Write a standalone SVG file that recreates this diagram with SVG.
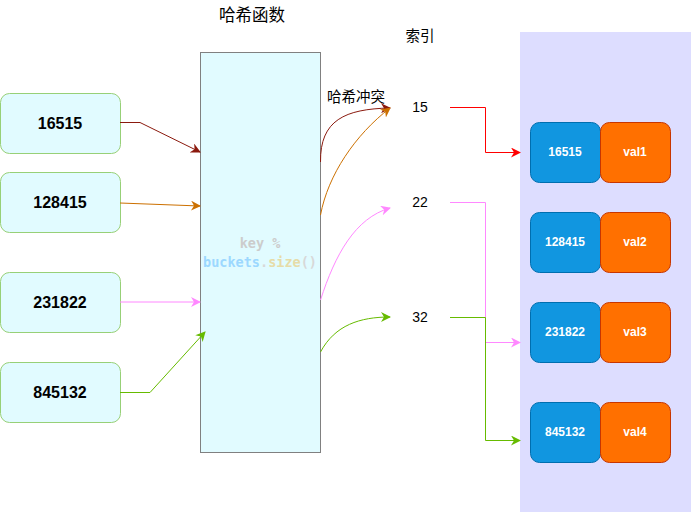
<svg xmlns="http://www.w3.org/2000/svg" width="691" height="512" viewBox="0 0 691 512">
<style>
.key{fill:#E1FBFF;stroke:#97D077;stroke-width:1}
.kt{font-family:"Liberation Sans",Arial,sans-serif;font-weight:bold;font-size:16px;fill:#000;text-anchor:middle}
.bk{fill:#1196E0;stroke:#006EAF;stroke-width:1}
.bv{fill:#FF7000;stroke:#C73500;stroke-width:1}
.bt{font-family:"Liberation Sans",Arial,sans-serif;font-weight:bold;font-size:12px;fill:#fff;text-anchor:middle}
.lbl{font-family:"Liberation Sans","Noto Sans CJK SC",sans-serif;font-size:14px;fill:#000;text-anchor:middle}
.cjk{font-family:"Noto Sans CJK SC",sans-serif;fill:#000;text-anchor:middle}
.code{font-family:"DejaVu Sans Mono","Liberation Mono",monospace;font-weight:bold;font-size:13.5px;text-anchor:middle}
.c{fill:none;stroke-width:1}
</style>
<defs>
<marker id="aDR" viewBox="0 0 10 10" refX="9" refY="5" markerWidth="10" markerHeight="10" markerUnits="userSpaceOnUse" orient="auto"><path d="M0,0 L10,5 L0,10 L3,5 Z" fill="#8B1A0E"/></marker>
<marker id="aOR" viewBox="0 0 10 10" refX="9" refY="5" markerWidth="10" markerHeight="10" markerUnits="userSpaceOnUse" orient="auto"><path d="M0,0 L10,5 L0,10 L3,5 Z" fill="#CC7000"/></marker>
<marker id="aPK" viewBox="0 0 10 10" refX="9" refY="5" markerWidth="10" markerHeight="10" markerUnits="userSpaceOnUse" orient="auto"><path d="M0,0 L10,5 L0,10 L3,5 Z" fill="#FF88FF"/></marker>
<marker id="aGR" viewBox="0 0 10 10" refX="9" refY="5" markerWidth="10" markerHeight="10" markerUnits="userSpaceOnUse" orient="auto"><path d="M0,0 L10,5 L0,10 L3,5 Z" fill="#66BB00"/></marker>
<marker id="aRD" viewBox="0 0 10 10" refX="9" refY="5" markerWidth="10" markerHeight="10" markerUnits="userSpaceOnUse" orient="auto"><path d="M0,0 L10,5 L0,10 L3,5 Z" fill="#FF0000"/></marker>
</defs>
<rect x="0" y="0" width="691" height="512" fill="#fff"/>
<g id="panel"><rect x="520" y="32" width="171" height="480" fill="#DDDDFF"/></g>
<g id="title"><text class="cjk" x="252" y="21" font-size="16.5">哈希函数</text></g>
<g id="idxTitle"><text class="cjk" x="420" y="41" font-size="14.5">索引</text></g>
<g id="hash">
<rect x="200.5" y="52.5" width="120" height="400" fill="#E1FBFF" stroke="#808080"/>
<text class="code" x="260" y="248"><tspan fill="#CCCCCC">key %</tspan></text>
<text class="code" x="260" y="267"><tspan fill="#9CD8FF">buckets</tspan><tspan fill="#D8D8D8">.</tspan><tspan fill="#E6DCA8">size</tspan><tspan fill="#D8D8D8">()</tspan></text>
</g>
<g id="k1"><rect class="key" x="0.5" y="93.5" width="120" height="60" rx="9"/><text class="kt" x="60" y="129">16515</text></g>
<g id="k2"><rect class="key" x="0.5" y="172.5" width="120" height="60" rx="9"/><text class="kt" x="60" y="208">128415</text></g>
<g id="k3"><rect class="key" x="0.5" y="272.5" width="120" height="60" rx="9"/><text class="kt" x="60" y="308">231822</text></g>
<g id="k4"><rect class="key" x="0.5" y="362.5" width="120" height="60" rx="9"/><text class="kt" x="60" y="398">845132</text></g>
<g id="collision"><text class="cjk" x="356" y="102" font-size="14.5">哈希冲突</text></g>
<g id="i15"><text class="lbl" x="420" y="112">15</text></g>
<g id="i22"><text class="lbl" x="420" y="207">22</text></g>
<g id="i32"><text class="lbl" x="420" y="322">32</text></g>
<g id="b1"><rect class="bk" x="530.5" y="122.5" width="70" height="60" rx="9"/><rect class="bv" x="600.5" y="122.5" width="70" height="60" rx="9"/><text class="bt" x="565" y="156">16515</text><text class="bt" x="635" y="156">val1</text></g>
<g id="b2"><rect class="bk" x="530.5" y="212.5" width="70" height="60" rx="9"/><rect class="bv" x="600.5" y="212.5" width="70" height="60" rx="9"/><text class="bt" x="565" y="246">128415</text><text class="bt" x="635" y="246">val2</text></g>
<g id="b3"><rect class="bk" x="530.5" y="302.5" width="70" height="60" rx="9"/><rect class="bv" x="600.5" y="302.5" width="70" height="60" rx="9"/><text class="bt" x="565" y="336">231822</text><text class="bt" x="635" y="336">val3</text></g>
<g id="b4"><rect class="bk" x="530.5" y="402.5" width="70" height="60" rx="9"/><rect class="bv" x="600.5" y="402.5" width="70" height="60" rx="9"/><text class="bt" x="565" y="436">845132</text><text class="bt" x="635" y="436">val4</text></g>
<g id="connectors">
<path class="c" d="M120,122.5 L140,122.5 L200,152" stroke="#8B1A0E" marker-end="url(#aDR)"/>
<path class="c" d="M120,203 L200,206" stroke="#CC7000" marker-end="url(#aOR)"/>
<path class="c" d="M120,302 L200,302" stroke="#FF88FF" marker-end="url(#aPK)"/>
<path class="c" d="M120,392.5 L150,392.5 L205,332" stroke="#66BB00" marker-end="url(#aGR)"/>
<path class="c" d="M320.5,162 C320,120 345,109 390,108" stroke="#8B1A0E" marker-end="url(#aDR)"/>
<path class="c" d="M320.5,215 C328,175 355,135 390,108" stroke="#CC7000" marker-end="url(#aOR)"/>
<path class="c" d="M320.5,300 C335,255 355,218 390,208" stroke="#FF88FF" marker-end="url(#aPK)"/>
<path class="c" d="M320.5,352 C335,325 360,317 390,317" stroke="#66BB00" marker-end="url(#aGR)"/>
<path class="c" d="M450,107.5 L485.5,107.5 L485.5,152.5 L520,152.5" stroke="#FF0000" marker-end="url(#aRD)"/>
<path class="c" d="M450,202.5 L485.5,202.5 L485.5,342.5 L520,342.5" stroke="#FF88FF" marker-end="url(#aPK)"/>
<path class="c" d="M450,317.5 L485.5,317.5 L485.5,440.5 L520,440.5" stroke="#66BB00" marker-end="url(#aGR)"/>
</g>
</svg>
